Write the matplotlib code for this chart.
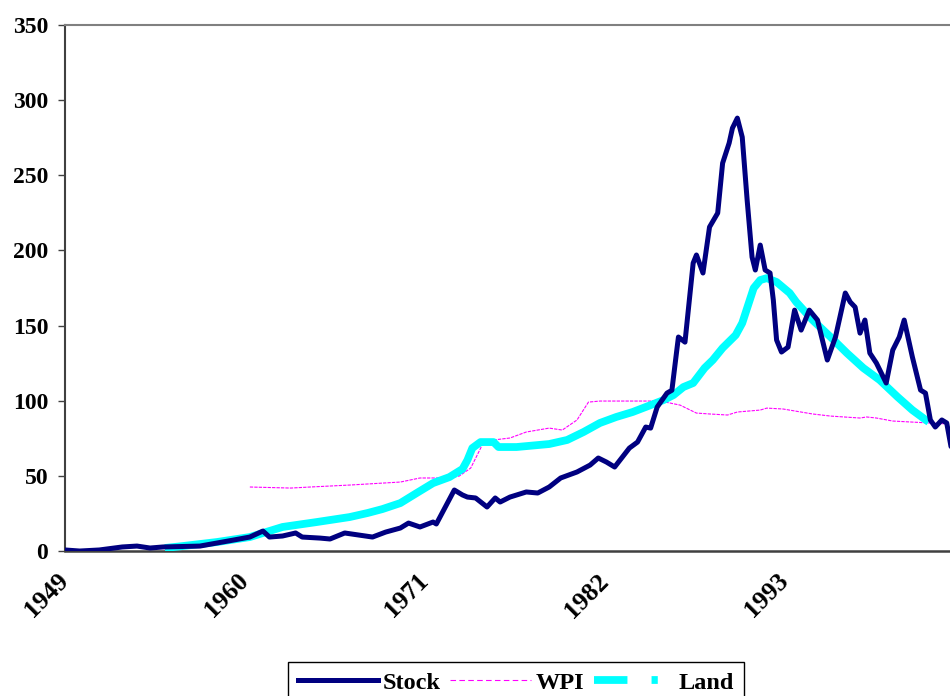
import numpy as np
import matplotlib.pyplot as plt
from matplotlib.lines import Line2D

plt.rcParams['font.family'] = ['Liberation Serif', 'DejaVu Serif']
plt.rcParams['font.weight'] = 'bold'

# values (year, index)
stock_year = [1949.0, 1949.9, 1951.1, 1952.5, 1953.4, 1954.2, 1955.0, 1957.25, 1959.3, 1960.3,
              1961.1, 1961.5, 1962.3, 1963.1, 1963.5, 1964.6, 1965.2, 1966.1, 1967.8, 1968.6,
              1969.5, 1970.0, 1970.7, 1971.5, 1971.7, 1972.8, 1973.3, 1973.6, 1974.1, 1974.8,
              1975.3, 1975.6, 1976.2, 1977.2, 1977.9, 1978.6, 1979.3, 1980.3, 1981.1, 1981.6,
              1982.1, 1982.6, 1983.5, 1984.0, 1984.5, 1984.8, 1985.2, 1985.8, 1986.1, 1986.4,
              1986.5, 1986.9, 1987.4, 1987.6, 1988.0, 1988.4, 1988.9, 1989.2, 1989.6, 1989.8,
              1990.1, 1990.4, 1990.7, 1991.0, 1991.2, 1991.5, 1991.8, 1992.1, 1992.3, 1992.5,
              1992.8, 1993.2, 1993.6, 1994.0, 1994.5, 1995.0, 1995.6, 1996.1, 1996.7, 1997.0,
              1997.3, 1997.6, 1997.9, 1998.2, 1998.6, 1999.2, 1999.6, 2000.0, 2000.3, 2000.8,
              2001.3, 2001.6, 2001.9, 2002.2, 2002.6, 2002.9, 2003.2]
stock = [0.7, 0.0, 0.7, 2.7, 3.3, 2.0, 2.7, 3.3, 7.3, 9.3,
         13.3, 9.3, 10.0, 12.0, 9.3, 8.6, 8.0, 12.0, 9.3, 12.6,
         15.3, 18.6, 16.0, 19.3, 18.0, 40.6, 37.3, 35.9, 35.3, 29.3,
         35.3, 32.6, 35.9, 39.3, 38.6, 42.6, 48.6, 52.6, 57.2, 61.9,
         59.2, 55.9, 68.5, 72.5, 82.5, 81.8, 95.8, 105.1, 107.0, 133.7,
         142.4, 139.0, 191.6, 197.0, 185.0, 215.6, 224.9, 258.1, 271.5, 281.4,
         288.1, 275.4, 233.5, 195.6, 187.0, 203.6, 187.0, 185.0, 167.0, 140.4,
         132.4, 135.7, 160.3, 147.0, 160.3, 153.7, 127.1, 142.4, 171.7, 165.7,
         162.3, 145.0, 153.7, 131.7, 125.1, 111.8, 133.7, 142.4, 153.7, 129.1,
         107.1, 105.1, 87.2, 82.5, 87.2, 85.2, 67.2]

wpi_year = [1960.3, 1962.8, 1964.0, 1966.4, 1969.5, 1970.7, 1972.5, 1973.1, 1973.8, 1974.2,
            1974.5, 1975.2, 1976.2, 1977.2, 1978.6, 1979.4, 1980.3, 1981.0, 1981.7, 1983.4,
            1985.4, 1986.6, 1987.6, 1988.4, 1989.5, 1990.1, 1991.5, 1991.9, 1992.9, 1994.7,
            1995.8, 1997.6, 1998.0, 1998.6, 1999.6, 2000.8, 2003.1]
wpi = [42.6, 41.9, 42.6, 43.9, 45.9, 48.6, 48.6, 49.9, 55.2, 63.9,
       70.5, 73.9, 75.2, 79.2, 81.8, 80.5, 87.2, 99.1, 99.8, 99.8,
       99.8, 97.1, 91.8, 91.2, 90.5, 92.5, 93.8, 95.1, 94.5, 91.2,
       89.8, 88.5, 89.2, 88.5, 86.5, 85.8, 84.5]

land_year = [1955.1, 1956.2, 1958.3, 1960.3, 1962.3, 1964.4, 1966.4, 1967.5, 1968.4, 1969.5,
             1970.5, 1971.5, 1972.5, 1973.3, 1973.6, 1973.9, 1974.4, 1975.2, 1975.5, 1976.6,
             1978.6, 1979.7, 1980.7, 1981.7, 1982.7, 1983.7, 1984.8, 1985.6, 1986.2, 1986.8,
             1987.4, 1988.1, 1988.6, 1989.2, 1990.0, 1990.4, 1990.7, 1991.1, 1991.5, 1991.9,
             1992.5, 1993.3, 1993.7, 1994.7, 1995.8, 1996.8, 1997.8, 1998.8, 1999.9, 2000.8,
             2001.8]
land = [2.0, 3.3, 6.0, 9.3, 16.0, 19.3, 22.6, 25.3, 27.9, 31.9,
        38.6, 45.2, 49.2, 54.6, 60.5, 68.5, 72.5, 72.5, 69.2, 69.2,
        71.2, 73.9, 79.2, 85.2, 89.2, 92.5, 97.1, 100.5, 103.8, 109.1,
        111.8, 121.8, 127.1, 135.1, 143.7, 151.7, 161.7, 175.0, 180.3, 181.6,
        179.0, 171.7, 165.7, 153.7, 142.4, 131.7, 121.8, 113.8, 102.5, 93.8,
        85.8]

xticks = [1949, 1960, 1971, 1982, 1993]
yticks = [0, 50, 100, 150, 200, 250, 300, 350]

navy = '#000080'
magenta = '#FF00FF'
cyan = '#00FFFF'

fig = plt.figure(figsize=(9.5, 6.96), dpi=100)
ax = fig.add_axes([0.0684, 0.2083, 0.9316, 0.7557])

ax.plot(wpi_year, wpi, color=magenta, lw=0.8, dashes=(3, 1), zorder=2)
ax.plot(land_year, land, color=cyan, lw=5.6, solid_capstyle='butt', zorder=3)
ax.plot(stock_year, stock, color=navy, lw=3.6, solid_joinstyle='round',
        solid_capstyle='round', zorder=4)

ax.set_xlim(1949, 2003.1)
ax.set_ylim(0, 350)
ax.set_xticks(xticks)
ax.set_yticks(yticks)
ax.set_xticklabels([str(t) for t in xticks], rotation=45, ha='right', va='center',
                   rotation_mode='anchor', fontsize=18.5, fontweight='bold')
ax.set_yticklabels([str(t) for t in yticks], fontsize=17, fontweight='bold')
ax.tick_params(axis='x', length=0, pad=19)
ax.tick_params(axis='y', length=5, width=1, color='#404040', pad=7)

ax.spines['right'].set_visible(False)
ax.spines['left'].set_color('#404040')
ax.spines['left'].set_linewidth(1.5)
ax.spines['bottom'].set_color('#404040')
ax.spines['bottom'].set_linewidth(1.8)
ax.spines['top'].set_color('#808080')
ax.spines['top'].set_linewidth(1.5)

handles = [Line2D([], [], color=navy, lw=3.6),
           Line2D([], [], color=magenta, lw=0.8, dashes=(5, 3)),
           Line2D([], [], color=cyan, lw=5.6, dashes=(4.3, 3.1, 0.8, 3.1))]
leg = fig.legend(handles, ['Stock', 'WPI', 'Land'], loc='upper left',
                 bbox_to_anchor=(288 / 950, 1 - 662 / 696), ncol=3, frameon=True,
                 fancybox=False, edgecolor='black', framealpha=1,
                 prop={'size': 17.5, 'weight': 'bold'}, handlelength=3.3,
                 handletextpad=0.2, columnspacing=0.4, borderpad=0.4, borderaxespad=0)
leg.get_frame().set_linewidth(1.0)

fig.savefig('out.png', dpi=100)
